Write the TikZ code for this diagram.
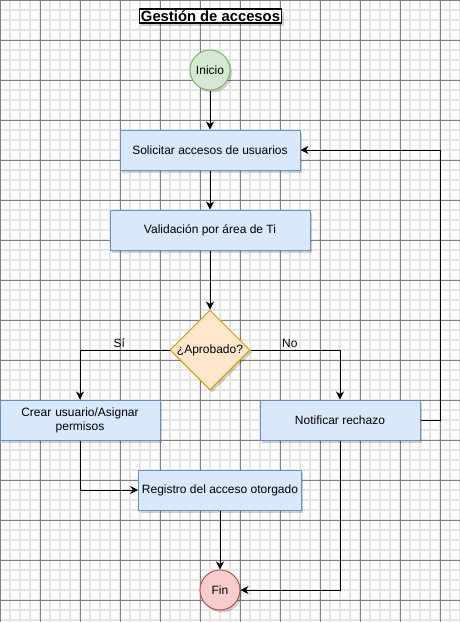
\documentclass[tikz,border=0pt]{standalone}
\usepackage{fontspec}
\setmainfont{Liberation Sans}
\usetikzlibrary{arrows.meta,shapes.geometric,shadows}
\definecolor{azulf}{HTML}{DAE8FC}
\definecolor{azulb}{HTML}{6C8EBF}
\definecolor{verdef}{HTML}{D5E8D4}
\definecolor{verdeb}{HTML}{82B366}
\definecolor{rojof}{HTML}{F8CECC}
\definecolor{rojob}{HTML}{B85450}
\definecolor{naranjaf}{HTML}{FFE6CC}
\definecolor{naranjab}{HTML}{D79B00}
\tikzset{every shadow/.style={fill=black,opacity=0.18,shadow xshift=2pt,shadow yshift=-2.5pt}}
\tikzset{
  paso/.style={rectangle,draw=azulb,fill=azulf,line width=1pt,minimum height=40pt,align=center,drop shadow},
  terminal/.style={circle,line width=1pt,minimum size=40pt,inner sep=0pt,drop shadow},
  flecha/.style={-{Stealth[length=8pt,width=8pt,inset=2.5pt]},line width=1pt},
  etiqueta/.style={above,inner sep=2pt}
}
\begin{document}
\begin{tikzpicture}[x=1pt,y=-1pt,font=\fontsize{12}{14}\selectfont]
\useasboundingbox (0,0) rectangle (460,622);
% grid
\fill[white] (0,0) rectangle (460,622);
\draw[black!10,line width=1.2pt,step=10pt] (0,0) grid (460,622);
\draw[black!50,line width=0.8pt,step=40pt] (0,0) grid (460,622);
%
\node (titulo) [draw=black,fill=white,line width=1.2pt,inner sep=1.5pt,drop shadow,font=\fontsize{14.8}{16}\selectfont\bfseries] at (210.5,16) {Gesti\'on de accesos};
\node (inicio) [terminal,draw=verdeb,fill=verdef] at (210,70) {Inicio};
\node (solicitar) [paso,minimum width=180pt] at (210,150) {Solicitar accesos de usuarios};
\node (validar) [paso,minimum width=200pt] at (210,230) {Validaci\'on por \'area de Ti};
\node (aprobado) [diamond,draw=naranjab,fill=naranjaf,line width=1pt,minimum width=80pt,minimum height=80pt,inner sep=0pt,aspect=1,drop shadow] at (210,350) {¿Aprobado?};
\node (crear) [paso,minimum width=160pt,text width=150pt] at (80,420) {Crear usuario/Asignar\\permisos};
\node (notificar) [paso,minimum width=160pt] at (340,420) {Notificar rechazo};
\node (registro) [paso,minimum width=160pt] at (220,490) {Registro del acceso otorgado};
\node (fin) [terminal,draw=rojob,fill=rojof] at (220,590) {Fin};
\coordinate (retorno) at (440,150);
%
\draw[flecha] (inicio) -- (solicitar);
\draw[flecha] (solicitar) -- (validar);
\draw[flecha] (validar) -- (aprobado);
\draw[flecha] (aprobado.west) -| node[etiqueta,pos=0.28] {S\'i} (crear.north);
\draw[flecha] (aprobado.east) -| node[etiqueta,pos=0.22] {No} (notificar.north);
\draw[flecha] (notificar.east) -| (retorno) -- (solicitar.east);
\draw[flecha] (crear.south) |- (registro.west);
\draw[flecha] (registro) -- (fin);
\draw[flecha] (notificar.south) |- (fin.east);
\end{tikzpicture}
\end{document}
